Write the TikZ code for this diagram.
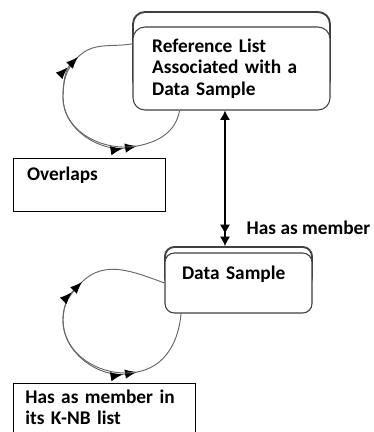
\documentclass[tikz,border=0pt]{standalone}
\usepackage{fontspec}
\setmainfont{Carlito}
\usetikzlibrary{arrows.meta}

\begin{document}
\begin{tikzpicture}[
		x=0.75pt, y=0.75pt,
		font=\fontsize{14.5}{16}\selectfont\bfseries,
		store/.style = {draw=black!75, line width=0.8pt, rounded corners=9pt, fill=white, inner sep=0pt, align=left},
		storeback/.style = {store, line width=1.4pt},
		note/.style = {draw, line width=0.7pt, inner sep=0pt, align=left},
		loop/.style = {draw=black!60, line width=0.7pt},
		twohead/.style = {-{Latex[length=9pt,width=7pt,sep=2pt,color=black]Latex[length=9pt,width=7pt,color=black]}},
		member/.style = {{Latex[length=7pt,width=7.5pt]}-{Latex[length=7pt,width=7.5pt,sep=2pt]Latex[length=7pt,width=7.5pt]}, line width=0.9pt}
			]
		\useasboundingbox (0,0) rectangle (374,432);

		\node [storeback, minimum width=147.75pt, minimum height=60pt] (refback) at (231.5,380) {};
		\node [store, minimum width=147.75pt, minimum height=62.25pt, text width=119pt] (ref) at (231.5,363.5) {Reference List\\Associated with a\\Data Sample};

		\node [storeback, rounded corners=7pt, minimum width=110.25pt, minimum height=30pt] (sampleback) at (238.5,165) {};
		\node [store, rounded corners=7pt, minimum width=110.25pt, minimum height=45pt, text width=84.75pt] (sample) at (238.5,149) {Data Sample\\ \mbox{}};

		\node [note, minimum width=114pt, minimum height=39.75pt, text width=93pt] (overlaps) at (89,247.5) {Overlaps\\ \mbox{}};
		\node [note, minimum width=136.5pt, minimum height=52.5pt, text width=118pt] (knb) at (104,14) {Has as member in\\its K-NB list\\ \mbox{}};

		\coordinate (axis) at (225,0);
		\draw [member] (ref.south -| axis) -- (sampleback.north -| axis);
		\node [anchor=west] (label) at (242,204) {Has as member};

		% loops round the two stores
		\draw [loop, twohead] (ref.166) to[out=190,in=45] (78,375) to[out=225,in=90] (63,335) to[out=270,in=190] (137,286);
		\draw [loop, twohead] (ref.219) to[out=260,in=10] (137,286) to[out=190,in=270] (63,335) to[out=90,in=225] (78,375);

		\draw [loop, twohead] (sample.west) to[out=160,in=45] (82,150) to[out=225,in=90] (63,112) to[out=270,in=190] (137,60);
		\draw [loop, twohead] (sample.208) to[out=265,in=10] (137,60) to[out=190,in=270] (63,112) to[out=90,in=225] (82,150);

	\end{tikzpicture}
\end{document}
